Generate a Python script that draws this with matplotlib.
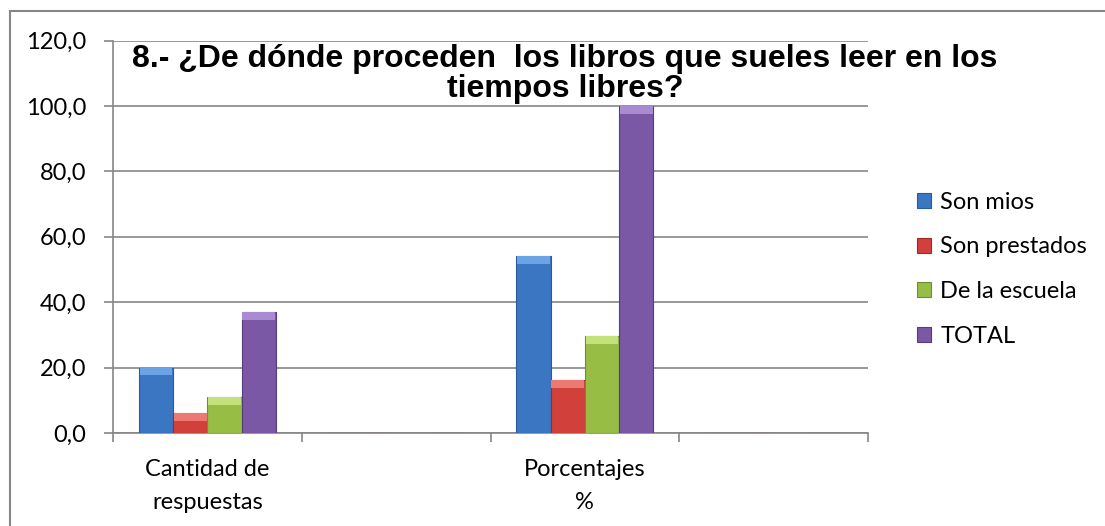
import numpy as np
import matplotlib.pyplot as plt
from matplotlib.patches import Rectangle
from matplotlib.ticker import FuncFormatter

# datos del grafico (2 categorias reales + 2 vacias como en el Excel)
categorias = ['Cantidad de\nrespuestas', '', 'Porcentajes\n%', '']
series = ['Son mios', 'Son prestados', 'De la escuela', 'TOTAL']
son_mios = [20, 0, 54.1, 0]
son_prestados = [6, 0, 16.2, 0]
de_la_escuela = [11, 0, 29.7, 0]
total = [37, 0, 100, 0]
valores = [son_mios, son_prestados, de_la_escuela, total]

colores = ['#3b76c3', '#d2403b', '#97bd45', '#7b58a6']
colores_tapa = ['#6aa3e6', '#ec7a72', '#c3e27c', '#a88bd0']
bordes = ['#2a5a98', '#9e2a27', '#6f8f2c', '#573c7c']

plt.rcParams['font.family'] = ['Lato', 'DejaVu Sans']
fig = plt.figure(figsize=(11.05, 5.26), dpi=100)
ax = fig.add_axes([113/1105, 1-433/526, (868-113)/1105, (433-40.6)/526])

x = np.arange(len(categorias))
w = 0.1815
tapa = 2.4
for i in range(len(series)):
    pos = x + (i - 1.5)*w
    v = np.array(valores[i])
    ax.bar(pos, v, w, color=colores[i], edgecolor=bordes[i], linewidth=0.8,
           label=series[i], zorder=3)
    # tapa clara arriba (efecto bisel)
    m = v > 0
    ax.bar(pos[m], np.full(m.sum(), tapa), w*0.96, bottom=v[m]-tapa,
           color=colores_tapa[i], linewidth=0, zorder=4)

ax.set_xlim(-0.5, 3.5)
ax.set_ylim(0, 120)
ax.set_yticks(np.arange(0, 121, 20))
ax.yaxis.set_major_formatter(FuncFormatter(lambda v, p: ('%.1f' % v).replace('.', ',')))
ax.grid(axis='y', color='#868686', linewidth=1.2, zorder=0)

ax.set_xticks(np.arange(-0.5, 3.6, 1))
ax.set_xticklabels([])
ax.set_xticks(x, minor=True)
ax.set_xticklabels(categorias, minor=True, fontsize=17, linespacing=1.7)
ax.tick_params(axis='x', which='minor', length=0, pad=19)
ax.tick_params(axis='x', which='major', length=6.5, color='#868686', width=1.2, direction='out')
ax.tick_params(axis='y', length=6.5, color='#868686', width=1.2, labelsize=17, pad=13)

for s in ['top', 'right']:
    ax.spines[s].set_visible(False)
for s in ['left', 'bottom']:
    ax.spines[s].set_color('#868686')
    ax.spines[s].set_linewidth(1.2)

fig.text(565/1105, 1-74/526, '8.- ¿De dónde proceden  los libros que sueles leer en los\ntiempos libres?',
         ha='center', va='center', fontsize=23, fontweight='bold',
         family=['Liberation Sans', 'DejaVu Sans'], linespacing=1.0)

handles, labels = ax.get_legend_handles_labels()
leg = fig.legend(handles[:4], labels[:4], loc='upper left', bbox_to_anchor=(905/1105, 1-180/526),
                 frameon=False, fontsize=17, handlelength=0.6, handleheight=0.6,
                 handletextpad=0.4, labelspacing=1.0, borderpad=0)

# marco exterior del grafico
fig.patches.append(Rectangle((10/1105, -0.1), 1.2, 1.1 - 11/526, transform=fig.transFigure,
                             fill=False, edgecolor='#868686', linewidth=1.5))

fig.savefig('out.png', dpi=100)
